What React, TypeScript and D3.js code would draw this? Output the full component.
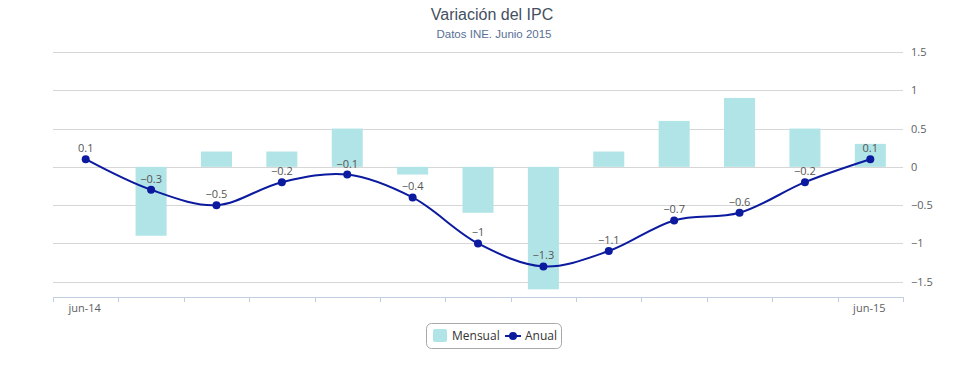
import React, { useEffect, useRef } from 'react';
import * as d3 from 'd3';

const months = ['jun-14', 'jul-14', 'ago-14', 'sep-14', 'oct-14', 'nov-14', 'dic-14', 'ene-15', 'feb-15', 'mar-15', 'abr-15', 'may-15', 'jun-15'];
const mensual = [0, -0.9, 0.2, 0.2, 0.5, -0.1, -0.6, -1.6, 0.2, 0.6, 0.9, 0.5, 0.3];
const anual = [0.1, -0.3, -0.5, -0.2, -0.1, -0.4, -1, -1.3, -1.1, -0.7, -0.6, -0.2, 0.1];
const yTicks = [-1.5, -1, -0.5, 0, 0.5, 1, 1.5];
const shownLabels = ['jun-14', 'jun-15'];

const W = 975, H = 390;
const barColor = '#b0e4e6';
const lineColor = '#0b1a9e';

export default function App() {
    const ref = useRef<SVGSVGElement>(null);

    useEffect(() => {
        const svg = d3.select(ref.current);
        svg.selectAll('*').remove();

        const left = 53, right = 903, top = 52, bottom = 297;

        const x = d3.scaleBand<string>().domain(months).range([left, right]);
        const y = d3.scaleLinear().domain([-1.7, 1.5]).range([bottom, top]);
        const cx = (m: string) => (x(m) as number) + x.bandwidth() / 2;

        // title
        svg.append('text')
            .attr('x', 492).attr('y', 20)
            .attr('text-anchor', 'middle')
            .style('font-family', '"Liberation Sans", Arial, sans-serif')
            .style('font-size', '16px')
            .style('fill', '#44505f')
            .text('Variación del IPC');
        svg.append('text')
            .attr('x', 494).attr('y', 38)
            .attr('text-anchor', 'middle')
            .style('font-family', '"Liberation Sans", Arial, sans-serif')
            .style('font-size', '11.5px')
            .style('fill', '#5a6f96')
            .text('Datos INE. Junio 2015');

        // grid
        svg.append('g').selectAll('line')
            .data(yTicks)
            .enter().append('line')
            .attr('x1', left).attr('x2', right)
            .attr('y1', d => Math.round(y(d)) + 0.5)
            .attr('y2', d => Math.round(y(d)) + 0.5)
            .style('stroke', '#d6d6d6')
            .style('stroke-width', 1);

        svg.append('g').selectAll('text')
            .data(yTicks)
            .enter().append('text')
            .attr('x', 911)
            .attr('y', d => y(d) + 4)
            .style('font-family', '"Open Sans", sans-serif')
            .style('font-size', '11px')
            .style('fill', '#606060')
            .text(d => d3.format('')(d).replace('-', '−'));

        // x axis
        svg.append('line')
            .attr('x1', left).attr('x2', right)
            .attr('y1', bottom + 0.5).attr('y2', bottom + 0.5)
            .style('stroke', '#c0d0e0');
        const ticks = months.map(m => x(m) as number).concat([right]);
        svg.append('g').selectAll('line')
            .data(ticks)
            .enter().append('line')
            .attr('x1', d => Math.round(d) + 0.5).attr('x2', d => Math.round(d) + 0.5)
            .attr('y1', bottom).attr('y2', bottom + 5)
            .style('stroke', '#c0d0e0');
        svg.append('g').selectAll('text')
            .data(shownLabels)
            .enter().append('text')
            .attr('x', d => cx(d) - 1)
            .attr('y', bottom + 15)
            .attr('text-anchor', 'middle')
            .style('font-family', '"Open Sans", sans-serif')
            .style('font-size', '11px')
            .style('fill', '#606060')
            .text(d => d);

        // bars
        const bw = 31;
        svg.append('g').selectAll('rect')
            .data(months)
            .enter().append('rect')
            .attr('x', m => cx(m) - bw / 2)
            .attr('width', bw)
            .attr('y', (m, i) => y(Math.max(0, mensual[i])))
            .attr('height', (m, i) => Math.abs(y(mensual[i]) - y(0)))
            .style('fill', barColor);

        // line
        const line = d3.line<number>()
            .x((d, i) => cx(months[i]))
            .y(d => y(d))
            .curve(d3.curveCatmullRom.alpha(0.5));
        svg.append('path')
            .datum(anual)
            .attr('d', line)
            .style('fill', 'none')
            .style('stroke', lineColor)
            .style('stroke-width', 2);
        svg.append('g').selectAll('circle')
            .data(anual)
            .enter().append('circle')
            .attr('cx', (d, i) => cx(months[i]))
            .attr('cy', d => y(d))
            .attr('r', 4)
            .style('fill', lineColor);
        svg.append('g').selectAll('text')
            .data(anual)
            .enter().append('text')
            .attr('x', (d, i) => cx(months[i]))
            .attr('y', d => y(d) - 7)
            .attr('text-anchor', 'middle')
            .style('font-family', '"Open Sans", sans-serif')
            .style('font-size', '11px')
            .style('fill', '#555')
            .text(d => String(d).replace('-', '−'));

        // legend
        const lg = svg.append('g').attr('transform', 'translate(426,323)');
        lg.append('rect')
            .attr('x', 0.5).attr('y', 0.5)
            .attr('width', 135).attr('height', 25)
            .attr('rx', 5)
            .style('fill', '#fff')
            .style('stroke', '#a8a8a8');
        lg.append('rect')
            .attr('x', 7).attr('y', 6)
            .attr('width', 14).attr('height', 13)
            .attr('rx', 2)
            .style('fill', barColor);
        lg.append('text')
            .attr('x', 26).attr('y', 17)
            .style('font-family', '"Open Sans", sans-serif')
            .style('font-size', '12px')
            .style('fill', '#333')
            .text('Mensual');
        lg.append('line')
            .attr('x1', 79).attr('x2', 95)
            .attr('y1', 13).attr('y2', 13)
            .style('stroke', lineColor)
            .style('stroke-width', 2);
        lg.append('circle')
            .attr('cx', 87).attr('cy', 13).attr('r', 4)
            .style('fill', lineColor);
        lg.append('text')
            .attr('x', 99).attr('y', 17)
            .style('font-family', '"Open Sans", sans-serif')
            .style('font-size', '12px')
            .style('fill', '#333')
            .text('Anual');
    }, []);

    return (
        <svg ref={ref} width={W} height={H}
            style={{ position: 'absolute', left: 0, top: 0, background: '#fff' }} />
    );
}
